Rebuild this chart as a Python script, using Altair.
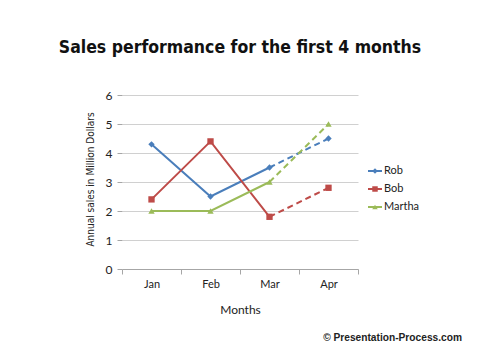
import altair as alt
import pandas as pd

months = ["Jan", "Feb", "Mar", "Apr"]
series = ["Rob", "Bob", "Martha"]
rob = [4.3, 2.5, 3.5, 4.5]
bob = [2.4, 4.4, 1.8, 2.8]
martha = [2.0, 2.0, 3.0, 5.0]
colors = ["#4a7ebb", "#be4b48", "#9bbb59"]
marker_shapes = ["diamond", "square", "triangle-up"]
y_ticks = [0, 1, 2, 3, 4, 5, 6]

title_text = "Sales performance for the first 4 months"
credit_text = "\u00a9 Presentation-Process.com"

rows = []
for name, vals in zip(series, [rob, bob, martha]):
    for m, v in zip(months, vals):
        rows.append({"Month": m, "Series": name, "Value": v})
df = pd.DataFrame(rows)
legend_df = pd.DataFrame({"Series": series})

xenc = alt.X("Month:N", sort=months,
             scale=alt.Scale(domain=months, paddingInner=0, paddingOuter=0),
             axis=alt.Axis(title="Months", labelAngle=0, tickBand="extent",
                           domainColor="#a6a6a6", tickColor="#a6a6a6", tickSize=5,
                           labelPadding=4, labelFontSize=11, labelColor="#222",
                           labelFont="Lato", titleFont="Lato", titleFontSize=12,
                           titleFontWeight="normal", titleColor="#222",
                           titleX=118, titleY=40, titleBaseline="middle", grid=False))
yenc = alt.Y("Value:Q", scale=alt.Scale(domain=[0, 6]),
             axis=alt.Axis(title="Annual sales in Million Dollars", values=y_ticks,
                           domain=False, tickColor="#a6a6a6", tickSize=5, labelPadding=5,
                           labelFontSize=12, labelColor="#222", labelFont="Lato",
                           gridColor="#d0d0d0", titleFont="DejaVu Sans Condensed",
                           titleFontSize=10, titleFontWeight="normal", titleColor="#222",
                           titleAngle=270, titleX=-32, titleY=84, titleAlign="center",
                           titleBaseline="middle"))
cscale = alt.Scale(domain=series, range=colors)
ccol = alt.Color("Series:N", scale=cscale, legend=None)
shape_enc = alt.Shape("Series:N", scale=alt.Scale(domain=series, range=marker_shapes), legend=None)

base = alt.Chart(df)
solid = base.transform_filter(alt.datum.Month != "Apr").mark_line(strokeWidth=2).encode(
    x=xenc, y=yenc, color=ccol)
dashed = base.transform_filter(
    (alt.datum.Month == "Mar") | (alt.datum.Month == "Apr")
).mark_line(strokeWidth=2, strokeDash=[6, 4]).encode(
    x=xenc, y=yenc, color=ccol)
points = base.mark_point(filled=True, size=40, opacity=1).encode(
    x=xenc, y=yenc, color=ccol, shape=shape_enc)

title = alt.Chart(pd.DataFrame({"t": [title_text]})).mark_text(
    font="DejaVu Sans Condensed", fontWeight="bold", fontSize=17.5, color="#111",
    align="center", baseline="alphabetic").encode(
    text="t:N", x=alt.value(118), y=alt.value(-42))
credit = alt.Chart(pd.DataFrame({"t": [credit_text]})).mark_text(
    font="Liberation Sans", fontWeight="bold", fontSize=10.2, color="#222",
    align="right", baseline="middle").encode(
    text="t:N", x=alt.value(340), y=alt.value(243))

main = alt.layer(solid, dashed, points, title, credit)

# legend built from the series list, rows placed by a point scale
ly = alt.Y("Series:N", scale=alt.Scale(type="point", domain=series, range=[76, 112],
                                       padding=0),
           axis=None)
lbase = alt.Chart(legend_df)
leg_line = lbase.mark_rule(strokeWidth=2).encode(
    x=alt.value(246), x2=alt.value(260), y=ly, color=ccol)
leg_pts = lbase.mark_point(filled=True, size=30, opacity=1).encode(
    x=alt.value(253), y=ly, color=ccol, shape=shape_enc)
leg_txt = lbase.mark_text(align="left", baseline="middle", font="Lato", fontSize=11,
                          color="#222").encode(x=alt.value(262), y=ly, text="Series:N")
legend = alt.layer(leg_line, leg_pts, leg_txt)

chart = alt.layer(main, legend).resolve_scale(y="independent").properties(
    width=236, height=174,
    padding={"left": 114, "top": 87, "right": 114, "bottom": 82},
    autosize=alt.AutoSizeParams(type="none"),
    background="white",
).configure_view(stroke=None)

chart.save("out.html", embed_options={"renderer": "svg", "actions": False})
